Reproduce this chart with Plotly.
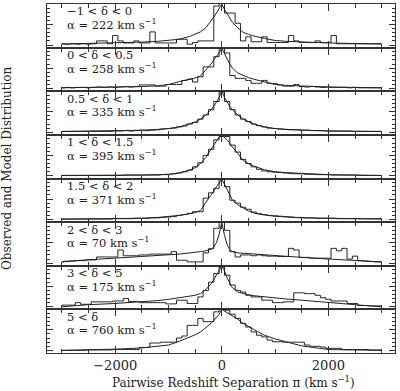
import plotly.graph_objects as go
from plotly.subplots import make_subplots

# ---------------- data ----------------
# histogram bins: centres every 100 km/s from -3000 to 3000
bin_centers = [-3000, -2900, -2800, -2700, -2600, -2500, -2400, -2300, -2200, -2100,
               -2000, -1900, -1800, -1700, -1600, -1500, -1400, -1300, -1200, -1100,
               -1000, -900, -800, -700, -600, -500, -400, -300, -200, -100,
               0, 100, 200, 300, 400, 500, 600, 700, 800, 900,
               1000, 1100, 1200, 1300, 1400, 1500, 1600, 1700, 1800, 1900,
               2000, 2100, 2200, 2300, 2400, 2500, 2600, 2700, 2800, 2900, 3000]

model_x = [-3000, -2500, -2000, -1500, -1200, -1000, -800, -600, -500, -400, -300,
           -200, -150, -100, -50, 0, 50, 100, 150, 200, 300, 400, 500, 600, 800,
           1000, 1200, 1500, 2000, 2500, 3000]

panel_range = ["\u22121 < \u03b4 < 0", "0 < \u03b4 < 0.5", "0.5 < \u03b4 < 1", "1 < \u03b4 < 1.5",
               "1.5 < \u03b4 < 2", "2 < \u03b4 < 3", "3 < \u03b4 < 5", "5 < \u03b4"]
alpha_vals = [222, 258, 335, 395, 371, 70, 175, 760]

obs1 = [0.03, 0.02, 0.03, 0.02, 0.03, 0.02, 0.03, 0.10, 0.10, 0.03,
        0.23, 0.10, 0.05, 0.05, 0.10, 0.05, 0.05, 0.32, 0.05, 0.05,
        0.05, 0.05, 0.14, 0.14, 0.02, 0.06, 0.10, 0.10, 0.10, 0.95,
        1.05, 0.78, 0.78, 0.53, 0.10, 0.20, 0.08, 0.08, 0.20, 0.06,
        0.06, 0.06, 0.06, 0.23, 0.10, 0.06, 0.06, 0.06, 0.10, 0.06,
        0.06, 0.23, 0.03, 0.03, 0.03, 0.03, 0.03, 0.03, 0.03, 0.03, 0.03]
obs2 = [0.02, 0.03, 0.02, 0.03, 0.03, 0.02, 0.03, 0.04, 0.03, 0.04,
        0.03, 0.04, 0.05, 0.04, 0.05, 0.09, 0.09, 0.09, 0.06, 0.06,
        0.10, 0.10, 0.10, 0.20, 0.23, 0.16, 0.29, 0.53, 0.53, 0.78,
        1.00, 0.87, 0.32, 0.25, 0.25, 0.20, 0.13, 0.13, 0.20, 0.13,
        0.12, 0.09, 0.06, 0.06, 0.10, 0.05, 0.04, 0.05, 0.04, 0.03,
        0.04, 0.03, 0.03, 0.03, 0.02, 0.03, 0.02, 0.02, 0.02, 0.02, 0.02]
obs3 = [0.02, 0.02, 0.02, 0.02, 0.02, 0.02, 0.02, 0.02, 0.02, 0.02,
        0.03, 0.03, 0.04, 0.03, 0.04, 0.05, 0.04, 0.05, 0.06, 0.08,
        0.09, 0.10, 0.13, 0.15, 0.20, 0.24, 0.32, 0.42, 0.55, 0.75,
        0.98, 0.75, 0.55, 0.42, 0.32, 0.26, 0.20, 0.16, 0.13, 0.10,
        0.09, 0.08, 0.07, 0.06, 0.06, 0.05, 0.05, 0.04, 0.04, 0.04,
        0.03, 0.03, 0.03, 0.03, 0.03, 0.02, 0.02, 0.02, 0.02, 0.02, 0.02]
obs4 = [0.01, 0.01, 0.01, 0.01, 0.01, 0.01, 0.01, 0.01, 0.01, 0.01,
        0.01, 0.01, 0.02, 0.02, 0.02, 0.02, 0.02, 0.02, 0.02, 0.03,
        0.03, 0.05, 0.07, 0.10, 0.14, 0.22, 0.32, 0.50, 0.65, 0.88,
        0.96, 0.96, 0.75, 0.58, 0.40, 0.30, 0.22, 0.16, 0.12, 0.10,
        0.09, 0.08, 0.07, 0.06, 0.05, 0.05, 0.04, 0.04, 0.03, 0.03,
        0.03, 0.02, 0.02, 0.02, 0.02, 0.02, 0.01, 0.01, 0.01, 0.01, 0.01]
obs5 = [0.01, 0.01, 0.01, 0.01, 0.01, 0.01, 0.01, 0.01, 0.01, 0.01,
        0.02, 0.02, 0.02, 0.02, 0.03, 0.03, 0.03, 0.04, 0.04, 0.05,
        0.06, 0.07, 0.10, 0.12, 0.15, 0.19, 0.19, 0.52, 0.65, 0.76,
        1.00, 0.80, 0.47, 0.40, 0.30, 0.25, 0.18, 0.14, 0.12, 0.10,
        0.09, 0.08, 0.07, 0.06, 0.05, 0.05, 0.04, 0.04, 0.03, 0.03,
        0.03, 0.03, 0.02, 0.02, 0.02, 0.02, 0.02, 0.02, 0.02, 0.02, 0.02]
obs6 = [0.03, 0.04, 0.05, 0.06, 0.06, 0.08, 0.08, 0.15, 0.15, 0.15,
        0.15, 0.32, 0.18, 0.18, 0.18, 0.20, 0.20, 0.22, 0.22, 0.22,
        0.22, 0.28, 0.07, 0.07, 0.03, 0.03, 0.03, 0.25, 0.35, 0.85,
        1.00, 0.80, 0.28, 0.15, 0.20, 0.20, 0.18, 0.20, 0.18, 0.17,
        0.17, 0.16, 0.16, 0.36, 0.32, 0.14, 0.14, 0.12, 0.12, 0.12,
        0.12, 0.36, 0.30, 0.36, 0.10, 0.17, 0.06, 0.05, 0.04, 0.03, 0.03]
obs7 = [0.04, 0.04, 0.04, 0.10, 0.06, 0.06, 0.12, 0.12, 0.12, 0.12,
        0.14, 0.14, 0.20, 0.13, 0.13, 0.10, 0.10, 0.10, 0.10, 0.10,
        0.07, 0.07, 0.16, 0.16, 0.08, 0.08, 0.24, 0.40, 0.60, 0.81,
        0.97, 0.77, 0.53, 0.40, 0.36, 0.28, 0.24, 0.24, 0.16, 0.16,
        0.10, 0.10, 0.12, 0.12, 0.34, 0.34, 0.32, 0.32, 0.28, 0.22,
        0.18, 0.14, 0.14, 0.14, 0.08, 0.08, 0.03, 0.03, 0.02, 0.02, 0.02]
obs8 = [0.00, 0.00, 0.00, 0.00, 0.00, 0.01, 0.01, 0.01, 0.01, 0.01,
        0.02, 0.02, 0.02, 0.02, 0.02, 0.07, 0.07, 0.18, 0.18, 0.20,
        0.20, 0.20, 0.30, 0.35, 0.61, 0.61, 0.78, 0.70, 0.70, 0.94,
        1.00, 0.98, 0.88, 0.78, 0.66, 0.57, 0.45, 0.37, 0.33, 0.25,
        0.21, 0.21, 0.20, 0.20, 0.20, 0.20, 0.13, 0.10, 0.10, 0.08,
        0.05, 0.05, 0.05, 0.02, 0.02, 0.02, 0.02, 0.02, 0.01, 0.01, 0.01]

mod1 = [0.025, 0.035, 0.05, 0.07, 0.09, 0.11, 0.14, 0.21, 0.26, 0.32, 0.42,
        0.58, 0.68, 0.78, 0.89, 1.00, 0.87, 0.76, 0.64, 0.55, 0.42, 0.31, 0.26,
        0.22, 0.16, 0.11, 0.09, 0.07, 0.05, 0.035, 0.025]
mod2 = [0.02, 0.025, 0.035, 0.05, 0.07, 0.10, 0.17, 0.22, 0.26, 0.31, 0.45,
        0.60, 0.70, 0.78, 0.87, 0.99, 0.84, 0.72, 0.60, 0.50, 0.38, 0.32, 0.27,
        0.23, 0.17, 0.10, 0.08, 0.06, 0.04, 0.03, 0.02]
mod3 = [0.02, 0.025, 0.03, 0.05, 0.07, 0.09, 0.13, 0.20, 0.25, 0.32, 0.42,
        0.55, 0.63, 0.73, 0.85, 1.00, 0.85, 0.73, 0.63, 0.55, 0.42, 0.32, 0.25,
        0.20, 0.13, 0.09, 0.07, 0.05, 0.03, 0.025, 0.02]
mod4 = [0.01, 0.01, 0.015, 0.02, 0.03, 0.04, 0.07, 0.14, 0.20, 0.30, 0.45,
        0.65, 0.78, 0.88, 0.95, 1.00, 0.95, 0.88, 0.80, 0.70, 0.55, 0.38, 0.30,
        0.24, 0.15, 0.10, 0.08, 0.06, 0.03, 0.02, 0.01]
mod5 = [0.01, 0.015, 0.02, 0.03, 0.05, 0.07, 0.10, 0.14, 0.17, 0.22, 0.40,
        0.60, 0.70, 0.80, 0.89, 0.98, 0.86, 0.74, 0.60, 0.47, 0.36, 0.28, 0.21,
        0.16, 0.11, 0.08, 0.06, 0.04, 0.03, 0.02, 0.01]
mod6 = [0.04, 0.08, 0.12, 0.16, 0.18, 0.20, 0.22, 0.25, 0.26, 0.28, 0.30,
        0.34, 0.40, 0.50, 0.70, 1.00, 0.68, 0.45, 0.33, 0.28, 0.25, 0.24, 0.23,
        0.22, 0.20, 0.18, 0.17, 0.14, 0.10, 0.06, 0.03]
mod7 = [0.00, 0.05, 0.08, 0.12, 0.15, 0.18, 0.22, 0.26, 0.28, 0.32, 0.42,
        0.56, 0.66, 0.76, 0.88, 1.00, 0.88, 0.70, 0.56, 0.46, 0.36, 0.32, 0.29,
        0.27, 0.24, 0.21, 0.19, 0.16, 0.10, 0.05, 0.00]
mod8 = [0.00, 0.01, 0.03, 0.06, 0.10, 0.13, 0.22, 0.32, 0.38, 0.45, 0.55,
        0.66, 0.73, 0.80, 0.88, 1.00, 0.96, 0.92, 0.89, 0.86, 0.76, 0.66, 0.58,
        0.51, 0.37, 0.28, 0.21, 0.11, 0.02, 0.01, 0.00]

observed = [obs1, obs2, obs3, obs4, obs5, obs6, obs7, obs8]
models = [mod1, mod2, mod3, mod4, mod5, mod6, mod7, mod8]

# ---------------- figure ----------------
n = 8
fig = make_subplots(rows=n, cols=1, shared_xaxes=True, vertical_spacing=0)

line_col = "#222222"
for k in range(n):
    fig.add_trace(go.Scatter(x=bin_centers, y=observed[k], mode="lines",
                             line=dict(shape="hvh", color=line_col, width=1),
                             hoverinfo="skip", showlegend=False), row=k + 1, col=1)
    fig.add_trace(go.Scatter(x=model_x, y=models[k], mode="lines",
                             line=dict(color=line_col, width=1),
                             hoverinfo="skip", showlegend=False), row=k + 1, col=1)

serif = "DejaVu Serif"
for k in range(n):
    sfx = "" if k == 0 else str(k + 1)
    fig.update_layout(**{
        "xaxis" + sfx: dict(range=[-3280, 3250], showline=True, mirror="allticks",
                            linecolor="#333333", linewidth=1, ticks="inside", ticklen=7,
                            tickcolor="#333333", tick0=0, dtick=2000, showgrid=False,
                            zeroline=False, showticklabels=(k == n - 1),
                            tickfont=dict(family=serif, size=13, color="#222222"),
                            minor=dict(ticks="inside", ticklen=4, dtick=500, tick0=0,
                                       tickcolor="#333333", showgrid=False)),
        "yaxis" + sfx: dict(range=[-0.064, 1.0], showline=True, mirror="allticks",
                            linecolor="#333333", linewidth=1, ticks="inside", ticklen=6,
                            tickcolor="#333333", tick0=0, dtick=0.5, showgrid=False,
                            zeroline=False, showticklabels=False,
                            minor=dict(ticks="inside", ticklen=3, dtick=0.1, tick0=0,
                                       tickcolor="#333333", showgrid=False)),
    })
    ydom = "y domain" if k == 0 else "y%d domain" % (k + 1)
    xdom = "x domain" if k == 0 else "x%d domain" % (k + 1)
    fig.add_annotation(text=panel_range[k], xref=xdom, yref=ydom, x=0.052, y=0.83,
                       xanchor="left", yanchor="middle", showarrow=False,
                       font=dict(family=serif, size=11.5, color="#222222"))
    fig.add_annotation(text="\u03b1 = %d km s<sup>\u22121</sup>" % alpha_vals[k],
                       xref=xdom, yref=ydom, x=0.052, y=0.53,
                       xanchor="left", yanchor="middle", showarrow=False,
                       font=dict(family=serif, size=11.5, color="#222222"))

fig.add_annotation(text="Pairwise Redshift Separation \u03c0 (km s<sup>\u22121</sup>)",
                   xref="paper", yref="paper", x=0.535, y=-0.083, xanchor="center",
                   yanchor="middle", showarrow=False,
                   font=dict(family=serif, size=12, color="#222222"))
fig.add_annotation(text="Observed and Model Distribution", textangle=-90,
                   xref="paper", yref="paper", x=-0.115, y=0.53, xanchor="center",
                   yanchor="middle", showarrow=False,
                   font=dict(family=serif, size=12, color="#222222"))

fig.update_layout(width=400, height=391, margin=dict(l=47, r=5, t=4, b=38),
                  paper_bgcolor="white", plot_bgcolor="white")

fig.write_html("out.html", config={"displayModeBar": False},
               post_script="document.body.style.margin='0';document.body.style.overflow='hidden';")
